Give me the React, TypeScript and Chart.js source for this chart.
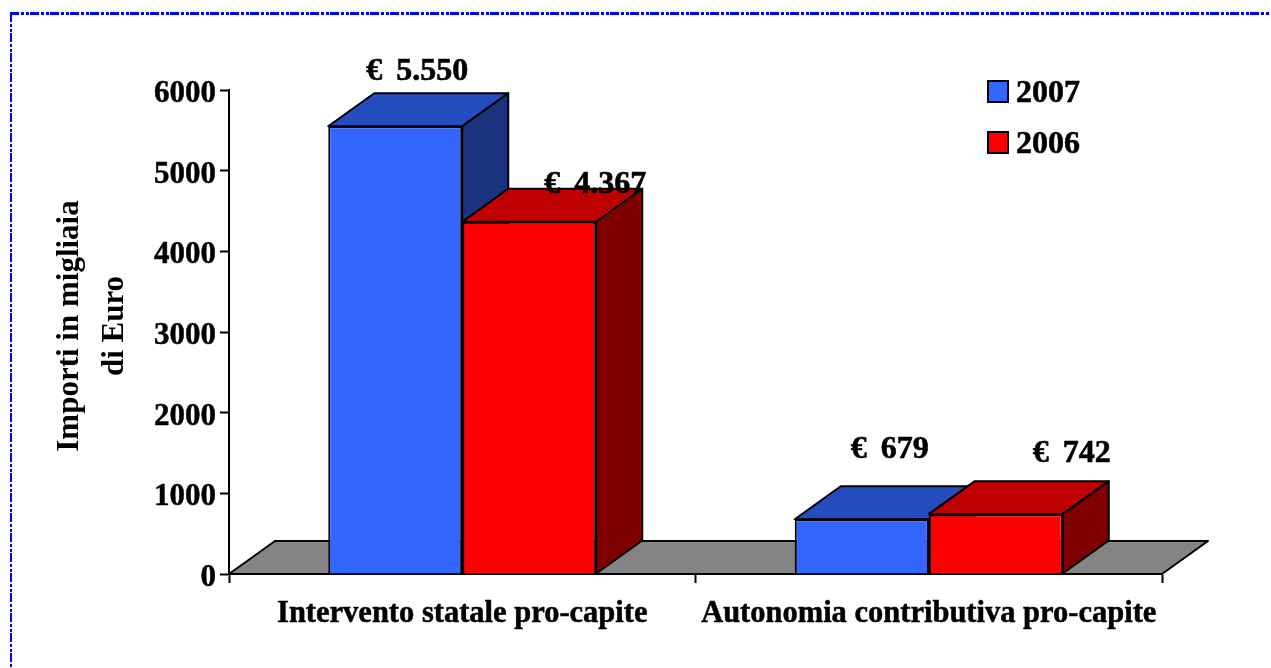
import React, { useEffect, useRef } from "react";
import { Chart, registerables } from "chart.js";

Chart.register(...registerables);

const categories = ["Intervento statale pro-capite", "Autonomia contributiva pro-capite"];
const values2007 = [5550, 679];
const values2006 = [4367, 742];
const labels2007 = ["€ 5.550", "€ 679"];
const labels2006 = ["€ 4.367", "€ 742"];
const yTickStep = 1000;
const yMax = 6000;
const yTitle = ["Importi in migliaia", "di Euro"];

const FONT = '"Liberation Serif", "Times New Roman", serif';
const W = 1271;
const H = 668;
const DX = 46;
const DY = -33;
const DASH = [9, 2, 3, 2, 3, 1];

const palette = [
  { front: "#3366FF", top: "#264DBF", side: "#1A337F" },
  { front: "#FF0000", top: "#BF0000", side: "#7F0000" },
];
// label offsets from the top-front-centre of each bar: [dataset][category]
const labelOffsets = [
  [[22, -55], [28, -69]],
  [[66, -37], [76, -60]],
];

function poly(ctx: CanvasRenderingContext2D, pts: number[][], fill: string) {
  ctx.beginPath();
  pts.forEach(([x, y], i) => (i ? ctx.lineTo(x, y) : ctx.moveTo(x, y)));
  ctx.closePath();
  ctx.fillStyle = fill;
  ctx.fill();
  ctx.lineWidth = 2;
  ctx.strokeStyle = "#000";
  ctx.lineJoin = "round";
  ctx.stroke();
}

function heavyText(ctx: CanvasRenderingContext2D, text: string, x: number, y: number) {
  ctx.lineWidth = 0.6;
  ctx.strokeStyle = "#000";
  ctx.fillStyle = "#000";
  ctx.fillText(text, x, y);
  ctx.strokeText(text, x, y);
}

// shift a scale's drawn layer by a few pixels without touching its geometry
function nudge(scale: any, method: string, dy: number) {
  const original = scale[method];
  scale[method] = function (...args: any[]) {
    scale.ctx.save();
    scale.ctx.translate(0, dy);
    original.apply(scale, args);
    scale.ctx.restore();
  };
}

const solidPlugin = {
  id: "solid",
  beforeDraw(chart: any) {
    const ctx = chart.ctx as CanvasRenderingContext2D;
    ctx.save();
    ctx.strokeStyle = "#0000FF";
    ctx.lineWidth = 3;
    ctx.setLineDash(DASH);
    ctx.beginPath();
    ctx.moveTo(10, 13.5);
    ctx.lineTo(W - 2, 13.5);
    ctx.stroke();
    ctx.lineWidth = 2;
    ctx.beginPath();
    ctx.moveTo(11, 13);
    ctx.lineTo(11, H);
    ctx.stroke();
    ctx.restore();
  },
  beforeDatasetsDraw(chart: any) {
    const ctx = chart.ctx as CanvasRenderingContext2D;
    const { left, right, bottom } = chart.chartArea;
    ctx.save();
    poly(ctx, [[left, bottom], [left + DX, bottom + DY], [right + DX, bottom + DY], [right, bottom]], "#848484");
    chart.data.datasets.forEach((_: any, d: number) => {
      chart.getDatasetMeta(d).data.forEach((bar: any) => {
        const half = bar.width / 2;
        const x0 = bar.x - half;
        const x1 = bar.x + half;
        const y = bar.y;
        const b = bar.base;
        poly(ctx, [[x0, y], [x0 + DX, y + DY], [x1 + DX, y + DY], [x1, y]], palette[d].top);
        poly(ctx, [[x1, y], [x1 + DX, y + DY], [x1 + DX, b + DY], [x1, b]], palette[d].side);
      });
    });
    ctx.restore();
  },
  afterDatasetsDraw(chart: any) {
    const ctx = chart.ctx as CanvasRenderingContext2D;
    ctx.save();
    ctx.font = `bold 32px ${FONT}`;
    ctx.textAlign = "center";
    ctx.textBaseline = "middle";
    (ctx as any).wordSpacing = "6px";
    const sets = [labels2007, labels2006];
    chart.data.datasets.forEach((_: any, d: number) => {
      chart.getDatasetMeta(d).data.forEach((bar: any, i: number) => {
        const [ox, oy] = labelOffsets[d][i];
        heavyText(ctx, sets[d][i], bar.x + ox, bar.y + oy);
      });
    });
    // legend
    (ctx as any).wordSpacing = "0px";
    chart.data.datasets.forEach((ds: any, d: number) => {
      const y = 81 + d * 51;
      ctx.fillStyle = ds.backgroundColor;
      ctx.fillRect(988, y, 20, 21);
      ctx.strokeStyle = "#000";
      ctx.lineWidth = 2;
      ctx.strokeRect(988, y, 20, 21);
      ctx.textAlign = "left";
      heavyText(ctx, ds.label, 1016, y + 13);
    });
    ctx.restore();
  },
};

export default function App() {
  const ref = useRef<HTMLCanvasElement>(null);
  useEffect(() => {
    const chart = new Chart(ref.current!, {
      type: "bar",
      data: {
        labels: categories,
        datasets: [
          { label: "2007", data: values2007, backgroundColor: palette[0].front, borderColor: "#000", borderWidth: 2 },
          { label: "2006", data: values2006, backgroundColor: palette[1].front, borderColor: "#000", borderWidth: 2 },
        ],
      },
      plugins: [solidPlugin],
      options: {
        responsive: false,
        animation: false,
        categoryPercentage: 0.5745,
        barPercentage: 1,
        layout: { padding: { left: 0, top: 90, right: 109, bottom: 0 } },
        plugins: { legend: { display: false }, tooltip: { enabled: false } },
        scales: {
          x: {
            afterFit: (s: any) => { s.height = 94; },
            border: { color: "#000", width: 2 },
            grid: { drawOnChartArea: false, color: "#000", tickColor: "#000", tickLength: 9, tickWidth: 2 },
            ticks: { color: "#000", maxRotation: 0, autoSkip: false, padding: 13, textStrokeColor: "#000", textStrokeWidth: 0.5, font: { family: FONT, size: 30.5, weight: "bold" } },
          },
          y: {
            min: 0,
            max: yMax,
            afterFit: (s: any) => { s.width = 229; },
            afterUpdate: (s: any) => { nudge(s, "drawLabels", 2); nudge(s, "drawTitle", -3); },
            border: { color: "#000", width: 2 },
            grid: { drawOnChartArea: false, color: "#000", tickColor: "#000", tickLength: 9, tickWidth: 2 },
            title: { display: true, text: yTitle, color: "#000", padding: { top: 48, bottom: 0 }, font: { family: FONT, size: 31, weight: "bold", lineHeight: 1.45 } },
            ticks: { color: "#000", stepSize: yTickStep, padding: 4, textStrokeColor: "#000", textStrokeWidth: 0.5, callback: (v: any) => String(v), font: { family: FONT, size: 31, weight: "bold" } },
          },
        },
      },
    } as any);
    return () => chart.destroy();
  }, []);
  return <canvas ref={ref} width={W} height={H} style={{ position: "absolute", left: 0, top: 0, display: "block" }} />;
}
